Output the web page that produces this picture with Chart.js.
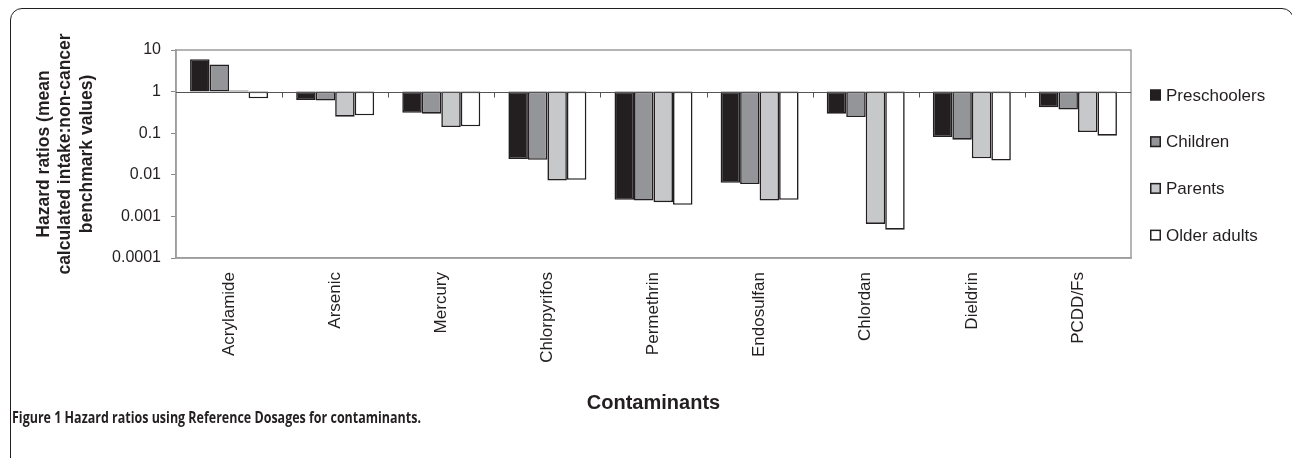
<!DOCTYPE html>
<html><head><meta charset="utf-8">
<script src="https://cdn.jsdelivr.net/npm/chart.js@4/dist/chart.umd.min.js"></script>
<style>
html,body{margin:0;padding:0;background:#fff;}
#wrap{position:relative;width:1292px;height:458px;overflow:hidden;background:#fff;}
#frame{position:absolute;left:10px;top:8px;width:1284px;height:462px;border:1.5px solid #231f20;border-radius:12px;box-sizing:border-box;}
#cap{position:absolute;left:12px;top:406px;font:bold 15.5px "Open Sans",sans-serif;color:#231f20;white-space:nowrap;transform:scaleX(0.805);transform-origin:0 0;}
canvas{position:absolute;left:0;top:0;}
</style></head>
<body><div id="wrap"><div id="frame"></div><canvas id="c" width="1292" height="458"></canvas><div id="cap">Figure 1 Hazard ratios using Reference Dosages for contaminants.</div></div>
<script>
const categories = ['Acrylamide','Arsenic','Mercury','Chlorpyrifos','Permethrin','Endosulfan','Chlordan','Dieldrin','PCDD/Fs'];
const seriesNames = ['Preschoolers','Children','Parents','Older adults'];
const preschoolers = [6.0, 0.63, 0.31, 0.024, 0.0025, 0.0064, 0.295, 0.081, 0.42];
const children     = [4.5, 0.61, 0.295, 0.023, 0.0024, 0.006, 0.245, 0.07, 0.37];
const parents      = [1.06, 0.25, 0.14, 0.0073, 0.0022, 0.0024, 0.00066, 0.025, 0.107];
const olderAdults  = [0.69, 0.27, 0.146, 0.0076, 0.0019, 0.0025, 0.00048, 0.022, 0.087];
const yTickValues = [0.0001, 0.001, 0.01, 0.1, 1, 10];
const yTickLabels = ['0.0001', '0.001', '0.01', '0.1', '1', '10'];
const baseline = 1;

const seriesValues = [preschoolers, children, parents, olderAdults];
const seriesColors = ['#231f20', '#939598', '#c7c8ca', '#ffffff'];
const INK = '#231f20';
const FONT = 'Arial, "Liberation Sans", sans-serif';

const datasets = seriesNames.map((name, i) => ({
  label: name,
  data: seriesValues[i].map(v => [baseline, v]),
  backgroundColor: seriesColors[i],
  borderColor: INK,
  borderWidth: 1.6,
  borderSkipped: false,
  categoryPercentage: 0.735,
  barPercentage: 1.0
}));

const decorPlugin = {
  id: 'decor',
  beforeDatasetsDraw(chart) {
    const {ctx, chartArea: a} = chart;
    ctx.save();
    ctx.strokeStyle = '#9c9c9c';
    ctx.lineWidth = 1.5;
    ctx.strokeRect(a.left, a.top, a.right - a.left, a.bottom - a.top);
    ctx.restore();
  },
  afterDatasetsDraw(chart) {
    const {ctx, chartArea: a} = chart;
    const x = chart.scales.x, y = chart.scales.y;
    const yb = Math.round(y.getPixelForValue(baseline)) + 0.5;
    ctx.save();
    ctx.strokeStyle = '#555555';
    ctx.lineWidth = 1;
    ctx.beginPath();
    ctx.moveTo(a.left, yb); ctx.lineTo(a.right, yb);
    for (let i = 0; i < categories.length - 1; i++) {
      const bx = Math.round((x.getPixelForValue(i) + x.getPixelForValue(i + 1)) / 2) + 0.5;
      ctx.moveTo(bx, yb); ctx.lineTo(bx, yb + 5);
    }
    ctx.stroke();
    // legend
    ctx.font = '17px ' + FONT;
    ctx.textBaseline = 'middle';
    ctx.textAlign = 'left';
    chart.data.datasets.forEach((ds, i) => {
      const cy = 95 + i * 46.7;
      ctx.fillStyle = ds.backgroundColor;
      ctx.fillRect(1150, cy - 5.5, 11, 11);
      ctx.strokeStyle = INK;
      ctx.lineWidth = 1.5;
      ctx.strokeRect(1150.75, cy - 4.75, 9.5, 9.5);
      ctx.fillStyle = INK;
      ctx.fillText(ds.label, 1166, cy + 1);
    });
    ctx.restore();
  }
};

new Chart(document.getElementById('c'), {
  type: 'bar',
  data: { labels: categories, datasets },
  options: {
    responsive: false,
    animation: false,
    devicePixelRatio: 1,
    layout: { padding: { left: 33, top: 50, right: 161, bottom: 43 } },
    plugins: { legend: { display: false }, tooltip: { enabled: false } },
    scales: {
      x: {
        type: 'category',
        grid: { display: false },
        border: { color: '#9c9c9c', width: 1.5 },
        ticks: {
          minRotation: 90, maxRotation: 90, autoSkip: false, padding: 6,
          color: INK, font: { family: FONT, size: 17 }
        },
        title: {
          display: true, text: 'Contaminants', color: INK, padding: 0,
          font: { family: FONT, size: 20, weight: 'bold', lineHeight: 1.2 }
        },
        afterFit(s) { s.height = 157; }
      },
      y: {
        type: 'logarithmic',
        min: 0.0001, max: 10,
        afterBuildTicks(s) { s.ticks = yTickValues.map(v => ({ value: v, major: true })); },
        grid: { drawOnChartArea: false, drawTicks: true, tickLength: 5, color: '#8a8a8a', lineWidth: 1 },
        border: { color: '#9c9c9c', width: 1.5 },
        ticks: {
          padding: 10, color: INK,
          font: { family: FONT, size: 16 },
          callback(v) { const k = yTickValues.indexOf(v); return k >= 0 ? yTickLabels[k] : ''; }
        },
        title: {
          display: true, color: INK, padding: 0,
          text: ['Hazard ratios (mean', 'calculated intake:non-cancer', 'benchmark values)'],
          font: { family: FONT, size: 17.5, weight: 'bold', lineHeight: 1.23 }
        },
        afterFit(s) { s.width = 176 - 33; }
      }
    }
  },
  plugins: [decorPlugin]
});
</script>
</body></html>
